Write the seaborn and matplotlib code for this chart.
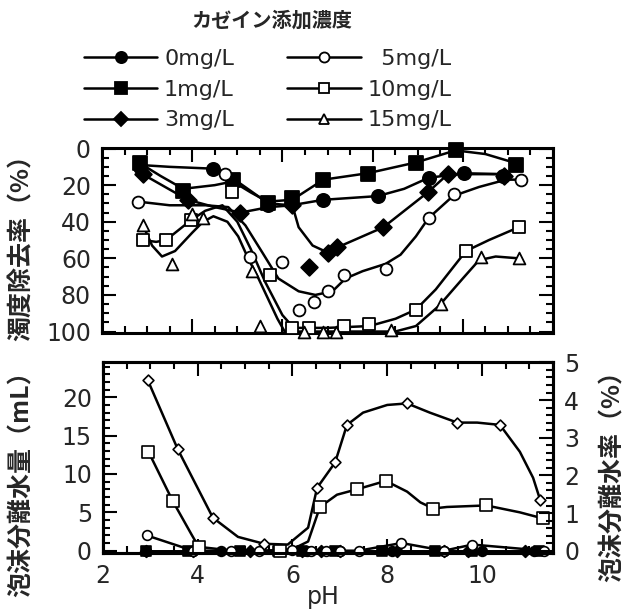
import matplotlib
matplotlib.use("Agg")
import matplotlib.pyplot as plt
from matplotlib.lines import Line2D
from matplotlib.ticker import MultipleLocator
import seaborn as sns

# --- DATA ---
series_names = ["0mg/L", "1mg/L", "3mg/L", "5mg/L", "10mg/L", "15mg/L"]

# top panel: turbidity removal (%) -- measured points
ph_0 = [2.85, 4.47, 5.69, 6.91, 8.11, 9.24, 10.02, 10.9]
tr_0 = [10, 11, 31, 28, 26, 16, 13.5, 15]
ph_1 = [2.84, 3.8, 4.9, 5.67, 6.22, 6.91, 7.89, 8.96, 9.84, 11.18]
tr_1 = [8, 23, 17, 30, 27, 17, 14, 8, 1, 9]
ph_3 = [2.9, 3.9, 5.07, 6.22, 6.58, 7.02, 7.22, 8.24, 9.22, 9.67, 10.91]
tr_3 = [14, 28, 35, 31, 65, 57, 54, 43, 24, 14, 15]
ph_5 = [2.8, 4.73, 5.29, 6.0, 6.36, 6.69, 7.0, 7.36, 8.29, 9.24, 9.8, 11.29]
tr_5 = [29, 14, 59, 62, 88, 84, 78, 69, 66, 38, 25, 17]
ph_10 = [2.91, 3.42, 3.98, 4.89, 5.73, 6.22, 6.58, 7.36, 7.93, 8.96, 10.07, 11.24]
tr_10 = [50, 50, 39, 24, 69, 98, 98, 97, 96, 88, 56, 43]
ph_15 = [2.91, 3.56, 4.0, 4.24, 5.33, 5.51, 6.47, 6.89, 7.18, 8.4, 9.51, 10.4, 11.24]
tr_15 = [42, 63, 36, 38, 67, 97, 100, 100, 100, 99, 85, 59, 60]

# top panel: hand-drawn fitted curves
cph_0 = [2.85, 3.5, 4.47, 5.0, 5.69, 6.2, 6.91, 8.11, 8.7, 9.24, 10.02, 10.9]
ctr_0 = [9, 10, 11, 18, 30, 31, 28, 26, 22, 16, 13.5, 14]
cph_1 = [2.84, 3.3, 3.8, 4.5, 4.9, 5.3, 5.67, 6.22, 6.91, 7.89, 8.96, 9.84, 10.5, 11.18]
ctr_1 = [8, 15, 22, 20, 18, 24, 29, 28, 17, 13.5, 7.6, 1, 3, 8]
cph_3 = [2.9, 3.4, 3.9, 4.5, 5.07, 5.7, 6.22, 6.36, 6.67, 7.02, 7.22, 8.24, 9.22, 9.67, 10.91]
ctr_3 = [14, 21, 28, 32, 35, 32, 31, 43, 53, 57, 54, 43, 24, 14, 14]
cph_5 = [2.8, 3.5, 4.3, 4.8, 5.18, 5.56, 5.91, 6.36, 6.73, 7.11, 7.4, 7.78, 8.29, 8.62,
         8.96, 9.24, 9.78, 10.36, 10.96, 11.29]
ctr_5 = [29, 31, 31, 32, 42, 57, 71, 78, 80, 78, 71, 67, 63, 58, 48, 38, 26, 21, 17, 17]
cph_10 = [2.91, 3.2, 3.42, 3.98, 4.29, 4.67, 5.0, 5.3, 5.62, 6.0, 6.25, 7.0, 7.93, 8.51,
          8.96, 9.4, 10.07, 10.58, 11.24]
ctr_10 = [50, 51, 50, 39, 34, 31, 40, 55, 73, 91, 98, 98, 97, 93, 88, 77, 56, 50, 43]
cph_15 = [2.91, 3.11, 3.33, 3.62, 4.0, 4.24, 4.47, 4.78, 5.02, 5.24, 5.47, 5.89, 6.05,
          8.5, 8.96, 9.47, 10.0, 10.36, 10.73, 11.24]
ctr_15 = [42, 53, 59, 56, 46, 40, 37, 40, 48, 60, 71, 93, 100, 100, 97, 86, 71, 61, 59, 60]

# bottom panel: foam separated water (mL)
bph_0 = [2.9, 3.9, 4.5, 5.7, 6.3, 7.0, 8.1, 9.2, 10.0, 11.1]
bw_0 = [0, 0, 0, 0, 0, 0, 0, 0, 0, 0]
bph_1 = [2.9, 3.8, 4.9, 5.7, 6.2, 6.9, 7.9, 9.0, 9.8, 11.2]
bw_1 = [0, 0, 0, 0, 0, 0, 0, 0, 0, 0]
bph_3 = [2.9, 3.9, 5.1, 6.2, 6.6, 7.0, 8.2, 9.2, 9.7, 10.9]
bw_3 = [0, 0, 0, 0, 0, 0, 0, 0, 0, 0]
bph_5 = [2.92, 3.9, 4.7, 5.3, 6.0, 6.4, 6.7, 7.0, 7.4, 8.3, 9.2, 9.8, 11.3]
bw_5 = [2.0, 0, 0, 0, 0.1, 0, 0, 0, 0, 1.0, 0, 0.8, 0]
bph_10 = [2.96, 3.47, 4.02, 5.73, 6.58, 7.36, 7.97, 8.97, 10.09, 11.29]
bw_10 = [12.9, 6.5, 0.5, 0, 5.7, 8.0, 9.1, 5.5, 5.9, 4.2]
bph_15 = [2.94, 3.58, 4.32, 5.4, 6.52, 6.9, 7.15, 8.42, 9.48, 10.38, 11.23]
bw_15 = [22.3, 13.2, 4.3, 0.9, 8.2, 11.5, 16.4, 19.2, 16.7, 16.4, 6.6]

# bottom panel: fitted curves
cbph_10 = [2.96, 3.47, 3.87, 4.02, 4.6, 5.5, 6.0, 6.33, 6.58, 6.94, 7.36, 7.97, 8.42,
           8.7, 8.97, 9.26, 10.09, 10.8, 11.29]
cbw_10 = [12.9, 6.5, 2.1, 0.5, 0.1, 0, 0.2, 1.2, 5.7, 7.3, 8.0, 9.1, 7.7, 6.3, 5.5, 5.7, 5.9, 5.0, 4.2]
cbph_15 = [2.94, 3.58, 4.32, 4.85, 5.4, 5.9, 6.33, 6.52, 6.9, 7.15, 7.49, 8.0, 8.42, 8.9,
           9.48, 9.9, 10.38, 10.8, 11.08, 11.23]
cbw_15 = [22.3, 13.2, 4.3, 1.8, 0.9, 0.8, 3, 8.2, 11.5, 16.4, 18, 19, 19.2, 18, 16.7,
          16.7, 16.4, 12.9, 9.5, 6.6]

# --- STYLE ---
sns.set_theme(style="ticks")
plt.rcParams['font.family'] = ['DejaVu Sans', 'Noto Sans CJK JP']
JP = ['Noto Sans CJK JP', 'DejaVu Sans']

marker_style = {
    "0mg/L": ("o", "black", 9.5),
    "1mg/L": ("s", "black", 9.5),
    "3mg/L": ("D", "black", 8.5),
    "5mg/L": ("o", "white", 8.5),
    "10mg/L": ("s", "white", 8.5),
    "15mg/L": ("^", "white", 8.5),
}

top_pts = {"0mg/L": (ph_0, tr_0), "1mg/L": (ph_1, tr_1), "3mg/L": (ph_3, tr_3),
           "5mg/L": (ph_5, tr_5), "10mg/L": (ph_10, tr_10), "15mg/L": (ph_15, tr_15)}
top_curves = [(cph_0, ctr_0), (cph_1, ctr_1), (cph_3, ctr_3),
              (cph_5, ctr_5), (cph_10, ctr_10), (cph_15, ctr_15)]

fig = plt.figure(figsize=(6.28, 6.13), dpi=100)
ax_top = fig.add_axes([102 / 628, 1 - 333 / 613, 451 / 628, 185 / 613])
ax_bot = fig.add_axes([103 / 628, 1 - 553 / 613, 450 / 628, 191 / 613])
ax_r = ax_bot.twinx()

LW = 1.8
TICK_FS = 17

# ---- top panel ----
for cx, cy in top_curves:
    sns.lineplot(x=cx, y=cy, ax=ax_top, color='black', lw=LW, sort=False,
                 estimator=None, legend=False, zorder=2)
for name in series_names:
    m, fc, ms = marker_style[name]
    x, y = top_pts[name]
    sns.scatterplot(x=x, y=y, ax=ax_top, marker=m, s=ms ** 2, color=fc,
                    edgecolor='black', linewidth=1.3, zorder=4, clip_on=False, legend=False)

ax_top.set_xlim(2, 12)
ax_top.set_ylim(100.8, -0.3)
ax_top.xaxis.set_major_locator(MultipleLocator(2))
ax_top.xaxis.set_minor_locator(MultipleLocator(0.5))
ax_top.yaxis.set_major_locator(MultipleLocator(20))
ax_top.yaxis.set_minor_locator(MultipleLocator(5))
ax_top.tick_params(which='both', direction='in', top=True, right=True, labelbottom=False,
                   width=1.5, color='black', labelsize=TICK_FS, pad=8)
ax_top.tick_params(which='major', length=10)
ax_top.tick_params(which='minor', length=5)

# ---- bottom panel ----
bot_curves = [(bph_0, bw_0), (bph_1, bw_1), (bph_3, bw_3), (bph_5, bw_5),
              (cbph_10, cbw_10), (cbph_15, cbw_15)]
for cx, cy in bot_curves:
    sns.lineplot(x=cx, y=cy, ax=ax_bot, color='black', lw=LW, sort=False,
                 estimator=None, legend=False, zorder=2)

bot_style = {
    "0mg/L": ("o", "black", 7), "1mg/L": ("s", "black", 7), "3mg/L": ("D", "black", 6),
    "5mg/L": ("o", "white", 7), "10mg/L": ("s", "white", 8), "15mg/L": ("D", "white", 5.5),
}
bot_pts = {"0mg/L": (bph_0, bw_0), "1mg/L": (bph_1, bw_1), "3mg/L": (bph_3, bw_3),
           "5mg/L": (bph_5, bw_5), "10mg/L": (bph_10, bw_10), "15mg/L": (bph_15, bw_15)}
for name in series_names:
    m, fc, ms = bot_style[name]
    x, y = bot_pts[name]
    sns.scatterplot(x=x, y=y, ax=ax_bot, marker=m, s=ms ** 2, color=fc,
                    edgecolor='black', linewidth=1.2, zorder=4, clip_on=False, legend=False)

ax_bot.set_xlim(2, 11.5)
ax_bot.set_ylim(-0.3, 24.6)
ax_r.set_ylim(-0.06, 5.01)
ax_bot.xaxis.set_major_locator(MultipleLocator(2))
ax_bot.xaxis.set_minor_locator(MultipleLocator(0.5))
ax_bot.yaxis.set_major_locator(MultipleLocator(5))
ax_bot.yaxis.set_minor_locator(MultipleLocator(1))
ax_r.yaxis.set_major_locator(MultipleLocator(1))
ax_r.yaxis.set_minor_locator(MultipleLocator(0.2))
ax_bot.tick_params(which='both', direction='in', top=True, right=False,
                   width=1.5, color='black', labelsize=TICK_FS, pad=8)
ax_r.tick_params(which='both', direction='in', width=1.5, color='black',
                 labelsize=TICK_FS, pad=8)
for a in (ax_bot, ax_r):
    a.tick_params(which='major', length=10)
    a.tick_params(which='minor', length=5)

for a in (ax_top, ax_bot, ax_r):
    for sp in a.spines.values():
        sp.set_linewidth(2.2)
        sp.set_color('black')
    a.set_xlabel('')
    a.set_ylabel('')

# ---- texts ----
fig.text(272 / 628, 1 - 20 / 613, 'カゼイン添加濃度', family=JP, weight='bold',
         fontsize=14.5, ha='center', va='center')
fig.text(22 / 628, 1 - 242 / 613, '濁度除去率（%）', family=JP, weight='bold',
         fontsize=18, rotation=90, ha='center', va='center')
fig.text(22 / 628, 1 - 478 / 613, '泡沫分離水量（mL）', family=JP, weight='bold',
         fontsize=18, rotation=90, ha='center', va='center')
fig.text(613 / 628, 1 - 470 / 613, '泡沫分離水率（%）', family=JP, weight='bold',
         fontsize=18, rotation=90, ha='center', va='center')
fig.text(323 / 628, 1 - 597 / 613, 'pH', fontsize=17, ha='center', va='center')

# ---- legend ----
legend_labels = ["0mg/L", "1mg/L", "3mg/L", "  5mg/L", "10mg/L", "15mg/L"]
handles = []
for name in series_names:
    m, fc, ms = marker_style[name]
    handles.append(Line2D([], [], color='black', lw=LW, marker=m, markersize=ms * 0.85,
                          markerfacecolor=fc, markeredgecolor='black', markeredgewidth=1.3))
fig.legend(handles, legend_labels, ncol=2, loc='upper left',
           bbox_to_anchor=(84 / 628, 1 - 49 / 613), frameon=False, fontsize=16,
           handlelength=3.3, handletextpad=0.3, columnspacing=2.4, labelspacing=0.48,
           borderpad=0, borderaxespad=0)

fig.savefig('out.png', dpi=100)
